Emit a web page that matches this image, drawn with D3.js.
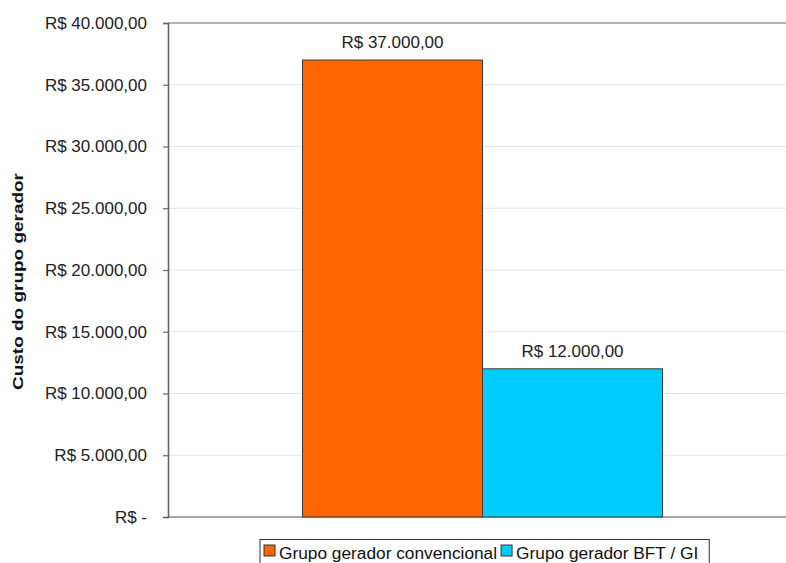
<!DOCTYPE html>
<html><head><meta charset="utf-8">
<script src="https://cdn.jsdelivr.net/npm/d3@7"></script>
<style>body{margin:0;background:#fff}svg{display:block}text{font-family:"Liberation Sans",Arial,sans-serif}</style>
</head><body><div id="chart"></div>
<script>
const series = ["Grupo gerador convencional", "Grupo gerador BFT / GI"];
const values = [37000, 12000];
const colors = ["#ff6600", "#00ccff"];
const yTicks = [0, 5000, 10000, 15000, 20000, 25000, 30000, 35000, 40000];
const yTitle = "Custo do grupo gerador";

const W = 786, H = 563;
const m = {left:168, right:-11, top:23, bottom:46};
const svg = d3.select("#chart").append("svg").attr("width", W).attr("height", H);
const fmt = v => v === 0 ? "R$ -" : "R$ " + d3.format(",.2f")(v).replace(/,/g,"X").replace(/\./g,",").replace(/X/g,".");

const y = d3.scaleLinear().domain([0, 40000]).range([H - m.bottom, m.top]);
const x0 = d3.scaleBand().domain(["c"]).range([m.left, W - m.right]).paddingInner(0).paddingOuter(0.3736);
const x1 = d3.scaleBand().domain(series).range([0, x0.bandwidth()]);

// gridlines
svg.append("g").selectAll("line").data(yTicks.filter(t => t > 0)).join("line")
  .attr("x1", m.left).attr("x2", W).attr("y1", d => y(d)).attr("y2", d => y(d))
  .attr("stroke", d => d === 40000 ? "#9a9a9a" : "#e4e4e4").attr("stroke-width", d => d === 40000 ? 1.5 : 1.2);

// bottom axis line
svg.append("line").attr("x1", m.left).attr("x2", W).attr("y1", y(0)).attr("y2", y(0))
  .attr("stroke", "#8a8a8a").attr("stroke-width", 1.3);

// bars
svg.append("g").selectAll("rect").data(series).join("rect")
  .attr("x", d => x0("c") + x1(d)).attr("width", x1.bandwidth())
  .attr("y", (d,i) => y(values[i])).attr("height", (d,i) => y(0) - y(values[i]))
  .attr("fill", (d,i) => colors[i]).attr("stroke", "#3a3a3a").attr("stroke-width", 1);

// value labels
svg.append("g").selectAll("text").data(series).join("text")
  .attr("x", d => x0("c") + x1(d) + x1.bandwidth()/2).attr("y", (d,i) => y(values[i]) - 12)
  .attr("text-anchor", "middle").attr("font-size", 17).attr("fill", "#222")
  .text((d,i) => fmt(values[i]));

// y axis
const ya = svg.append("g").attr("transform", `translate(${m.left},0)`)
  .call(d3.axisLeft(y).tickValues(yTicks).tickFormat(fmt).tickSize(5).tickPadding(16));
ya.select(".domain").attr("stroke", "#666").attr("stroke-width", 1.6);
ya.selectAll(".tick line").attr("stroke", "#666").attr("stroke-width", 1.2);
ya.selectAll(".tick text").attr("font-size", 17).attr("fill", "#222").attr("font-family", '"Liberation Sans",Arial,sans-serif');

// y title
svg.append("text").attr("transform", `translate(23,281.5) rotate(-90)`)
  .attr("text-anchor", "middle").attr("font-size", 15.5).attr("font-weight", "bold").attr("fill", "#111")
  .attr("textLength", 217).attr("lengthAdjust", "spacingAndGlyphs")
  .text(yTitle);

// legend
const lg = svg.append("g");
const box = lg.append("rect").attr("x", 260).attr("y", 539.5).attr("height", 40)
  .attr("fill", "#fff").attr("stroke", "#333").attr("stroke-width", 1);
let lx = 264, lastEnd = 0;
series.forEach((s,i) => {
  lg.append("rect").attr("x", lx).attr("y", 545).attr("width", 11).attr("height", 11)
    .attr("fill", colors[i]).attr("stroke", "#333").attr("stroke-width", 1);
  const t = lg.append("text").attr("x", lx + 15).attr("y", 559).attr("font-size", 17.3).attr("fill", "#111").text(s);
  lastEnd = lx + 15 + t.node().getComputedTextLength();
  lx = lastEnd + 4;
});
box.attr("width", lastEnd + 11 - 260);
</script></body></html>
